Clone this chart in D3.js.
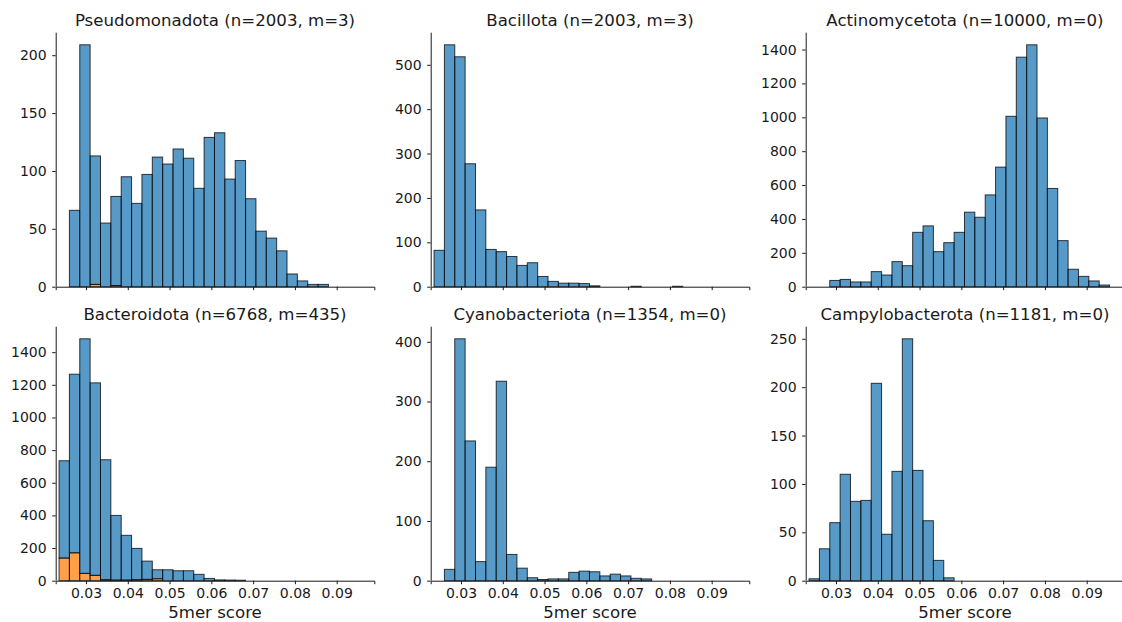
<!DOCTYPE html>
<html>
<head>
<meta charset="utf-8">
<script src="https://cdn.jsdelivr.net/npm/d3@7"></script>
<style>
  html, body { margin: 0; padding: 0; background: #fff; }
  svg { display: block; font-family: "DejaVu Sans", sans-serif; }
</style>
</head>
<body>
<svg id="chart" width="1122" height="622"></svg>
<script>
// Phylum histograms of 5mer scores; flagged genomes (m) stacked under the rest.
const phyla = ["Pseudomonadota", "Bacillota", "Actinomycetota",
               "Bacteroidota", "Cyanobacteriota", "Campylobacterota"];
const genomeCounts = [2003, 2003, 10000, 6768, 1354, 1181];
const flaggedCounts = [3, 3, 0, 435, 0, 0];

// shared bin grid (first edge, bin width) and index of each panel's first bin
const binEdge0 = 0.02355;
const binWidth = 0.00248;
const firstBin = [1, 0, 2, 0, 1, 0];

// per-bin counts: "other" genomes and "flagged" genomes
const pseudomonadotaOther   = [66, 209, 111, 55, 77, 95, 72, 97, 112, 106, 119, 111, 85, 129, 133, 93, 109, 76, 48, 42, 31, 11, 5, 2, 2];
const pseudomonadotaFlagged = [0, 0, 2, 0, 1];
const bacillotaOther   = [82, 545, 518, 277, 173, 84, 79, 68, 48, 54, 23, 12, 8, 8, 7, 2, 0, 0, 0, 1, 0, 0, 0, 1];
const bacillotaFlagged = [];
const actinomycetotaOther   = [37, 43, 28, 28, 89, 69, 148, 124, 321, 359, 207, 260, 321, 440, 410, 542, 706, 1006, 1355, 1428, 996, 580, 272, 103, 61, 34, 10];
const actinomycetotaFlagged = [];
const bacteroidotaOther   = [596, 1094, 1437, 1179, 735, 396, 274, 192, 112, 55, 67, 61, 61, 39, 14, 5, 4, 3];
const bacteroidotaFlagged = [139, 171, 45, 33, 6, 4, 4, 6, 8, 12];
const cyanobacteriotaOther   = [19, 405, 234, 32, 190, 334, 44, 21, 5, 2, 3, 3, 14, 16, 15, 8, 11, 8, 4, 3];
const cyanobacteriotaFlagged = [];
const campylobacterotaOther   = [2, 33, 60, 110, 82, 83, 204, 48, 113, 250, 114, 62, 21, 3];
const campylobacterotaFlagged = [];

const otherSeries   = [pseudomonadotaOther, bacillotaOther, actinomycetotaOther,
                       bacteroidotaOther, cyanobacteriotaOther, campylobacterotaOther];
const flaggedSeries = [pseudomonadotaFlagged, bacillotaFlagged, actinomycetotaFlagged,
                       bacteroidotaFlagged, cyanobacteriotaFlagged, campylobacterotaFlagged];

const yTickValues = [
  [0, 50, 100, 150, 200],
  [0, 100, 200, 300, 400, 500],
  [0, 200, 400, 600, 800, 1000, 1200, 1400],
  [0, 200, 400, 600, 800, 1000, 1200, 1400],
  [0, 100, 200, 300, 400],
  [0, 50, 100, 150, 200, 250]
];
const xTickValues = [0.03, 0.04, 0.05, 0.06, 0.07, 0.08, 0.09];
const xDomain = [0.02275, 0.0990];
const xLabel = "5mer score";

// layout
const colLeft = [55.7, 430.7, 805.7];
const rowTop = [32.7, 326.7];
const plotW = 318.6, plotH = 254;
const ink = "#1a1a1a";
const colors = { other: "rgba(31,119,180,0.75)", flagged: "rgba(255,127,14,0.75)" };

const svg = d3.select("#chart");
const x = d3.scaleLinear().domain(xDomain).range([0, plotW]);

phyla.forEach((name, p) => {
  const row = Math.floor(p / 3), col = p % 3;
  const g = svg.append("g").attr("transform", `translate(${colLeft[col]},${rowTop[row]})`);

  const other = otherSeries[p], flagged = flaggedSeries[p];
  const bins = other.map((v, i) => ({
    x0: binEdge0 + (firstBin[p] + i) * binWidth,
    x1: binEdge0 + (firstBin[p] + i + 1) * binWidth,
    other: v,
    flagged: flagged[i] || 0
  }));

  const stacked = d3.stack().keys(["flagged", "other"])(bins);
  const yMax = d3.max(bins, d => d.other + d.flagged) * 1.05;
  const y = d3.scaleLinear().domain([0, yMax]).range([plotH, 0]);

  stacked.forEach(layer => {
    g.append("g").selectAll("rect")
      .data(layer.filter(d => layer.key === "other" || d[1] - d[0] > 0))
      .join("rect")
      .attr("x", d => x(d.data.x0))
      .attr("width", d => x(d.data.x1) - x(d.data.x0))
      .attr("y", d => y(d[1]))
      .attr("height", d => y(d[0]) - y(d[1]))
      .attr("fill", colors[layer.key])
      .attr("stroke", "rgba(0,0,0,0.75)")
      .attr("stroke-width", 1);
  });

  // y axis
  const yAxis = g.append("g")
    .call(d3.axisLeft(y).tickValues(yTickValues[p]).tickFormat(d3.format("d")).tickSizeOuter(0).tickSize(3.5).tickPadding(5.5));
  yAxis.select(".domain").attr("stroke", ink).attr("stroke-width", 1)
    .attr("d", `M0.5,0V${plotH}`);

  // x axis
  const xAxis = g.append("g").attr("transform", `translate(0,${plotH})`)
    .call(d3.axisBottom(x).tickValues(xTickValues).tickFormat(row === 1 ? d3.format(".2f") : () => "")
      .tickSizeOuter(0).tickSize(3.5).tickPadding(4));
  xAxis.select(".domain").attr("stroke", ink).attr("stroke-width", 1);

  [yAxis, xAxis].forEach(a => {
    a.selectAll(".tick line").attr("stroke", ink).attr("stroke-width", 1);
    a.selectAll(".tick text").attr("fill", ink).style("font-size", "14px").style("font-family", "DejaVu Sans");
  });

  g.append("text")
    .attr("x", plotW / 2).attr("y", -7)
    .attr("text-anchor", "middle")
    .attr("fill", ink)
    .style("font-size", "16.6px")
    .text(`${name} (n=${genomeCounts[p]}, m=${flaggedCounts[p]})`);

  if (row === 1) {
    g.append("text")
      .attr("x", plotW / 2).attr("y", plotH + 37)
      .attr("text-anchor", "middle")
      .attr("fill", ink)
      .style("font-size", "16.6px")
      .text(xLabel);
  }
});
</script>
</body>
</html>
